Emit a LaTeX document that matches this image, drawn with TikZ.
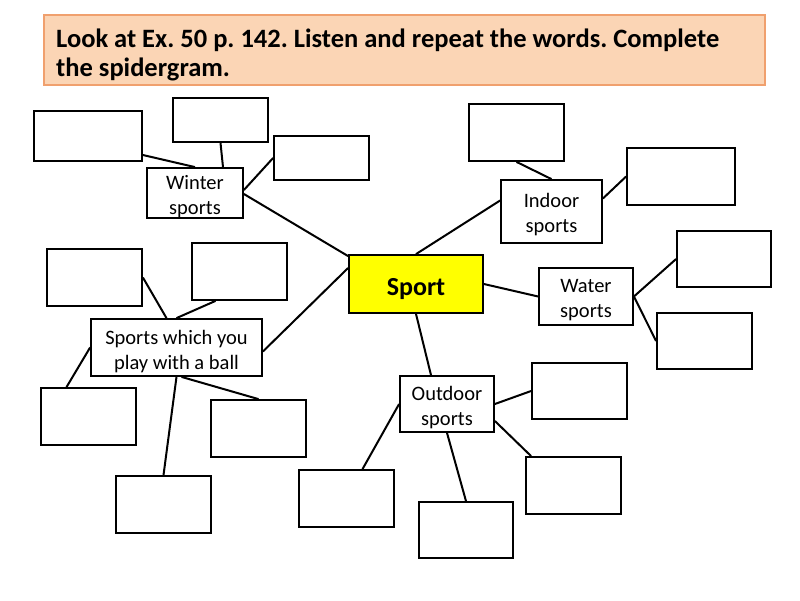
\documentclass[tikz,border=0pt]{standalone}
\usepackage{fontspec}
\setmainfont{Carlito}
\frenchspacing
\usetikzlibrary{calc}
\definecolor{titlefill}{RGB}{251,213,181}
\definecolor{titledraw}{RGB}{240,160,110}
\definecolor{sportyellow}{RGB}{255,255,0}
\newcommand{\lowstrut}{\rule{0pt}{21pt}}
\tikzset{
  box/.style={draw=black, line width=1.8pt, fill=white, inner sep=0pt, align=center,
    font=\fontsize{20.5}{25}\selectfont},
  link/.style={line width=2pt, black},
}
\begin{document}
\begin{tikzpicture}[x=1pt,y=-1pt]
\useasboundingbox[fill=white] (0,0) rectangle (800,600);
% title
\node[draw=titledraw, fill=titlefill, line width=1.5pt, minimum width=721pt, minimum height=70pt,
  inner sep=0pt] (title) at (404.5,50) {};
\node[anchor=base west, inner sep=0pt, align=left, font=\bfseries\fontsize{26.5}{29}\selectfont]
  (titletext) at (56,76) {Look at Ex. 50 p. 142. Listen and repeat the words. Complete\\the spidergram.};
% centre
\node[box, fill=sportyellow, minimum width=134pt, minimum height=58pt, text height=40pt, text depth=18pt,
  font=\bfseries\fontsize{26}{28}\selectfont] (sport) at (416,284) {Sport};
% categories
\node[box, minimum width=96pt, minimum height=50pt] (winter) at (195,193) {\lowstrut Winter\\sports};
\node[box, minimum width=101pt, minimum height=63pt] (indoor) at (551.5,211.5) {\lowstrut Indoor\\sports};
\node[box, minimum width=94pt, minimum height=57pt] (water) at (586,296.5) {\lowstrut Water\\sports};
\node[box, minimum width=94pt, minimum height=56pt] (outdoor) at (447,404) {\lowstrut Outdoor\\sports};
\node[box, minimum width=171pt, minimum height=57pt] (ball) at (176.5,347.5) {\rule{0pt}{23pt}Sports which you\\play with a ball};
% empty boxes
\node[box, minimum width=108pt, minimum height=50pt] (w1) at (88,136) {};
\node[box, minimum width=95pt, minimum height=44pt] (w2) at (220.5,120) {};
\node[box, minimum width=95pt, minimum height=44pt] (w3) at (321.5,158) {};
\node[box, minimum width=95pt, minimum height=57pt] (i1) at (516.5,132.5) {};
\node[box, minimum width=108pt, minimum height=57pt] (i2) at (681,176.5) {};
\node[box, minimum width=94pt, minimum height=56pt] (wa1) at (724,259) {};
\node[box, minimum width=95pt, minimum height=56pt] (wa2) at (704.5,341) {};
\node[box, minimum width=95pt, minimum height=56pt] (o1) at (579.5,391) {};
\node[box, minimum width=95pt, minimum height=57pt] (o2) at (573.5,485.5) {};
\node[box, minimum width=94pt, minimum height=56pt] (o3) at (466,530) {};
\node[box, minimum width=95pt, minimum height=57pt] (o4) at (346.5,498.5) {};
\node[box, minimum width=95pt, minimum height=57pt] (b1) at (94.5,277.5) {};
\node[box, minimum width=95pt, minimum height=57pt] (b2) at (239.5,271.5) {};
\node[box, minimum width=95pt, minimum height=57pt] (b3) at (88.5,416.5) {};
\node[box, minimum width=95pt, minimum height=57pt] (b4) at (258.5,428.5) {};
\node[box, minimum width=95pt, minimum height=57pt] (b5) at (163.5,504.5) {};
% connectors
\draw[link] ([yshift=-19pt]w1.east) -- (winter.north);
\draw[link] (w2.south) -- ([xshift=28pt]winter.north);
\draw[link] (w3.west) -- ([yshift=3pt]winter.east);
\draw[link] ([yshift=-1pt]winter.east) -- ([yshift=-2pt]sport.north west);
\draw[link] ([yshift=-4pt]ball.east) -- ([yshift=16pt]sport.west);
\draw[link] (sport.north) -- ([yshift=11pt]indoor.west);
\draw[link] (sport.east) -- (water.west);
\draw[link] (sport.south) -- ([xshift=-16pt]outdoor.north);
\draw[link] (i1.south) -- (indoor.north);
\draw[link] ([yshift=13pt]indoor.east) -- (i2.west);
\draw[link] (water.east) -- (wa1.west);
\draw[link] (water.east) -- (wa2.west);
\draw[link] (outdoor.east) -- (o1.west);
\draw[link] ([yshift=-17pt]outdoor.east) -- ([xshift=6pt]o2.north west);
\draw[link] (outdoor.south) -- (o3.north);
\draw[link] (outdoor.west) -- ([xshift=16pt]o4.north);
\draw[link] (b1.east) -- ([xshift=-10pt]ball.north);
\draw[link] ([xshift=-24pt]b2.south) -- (ball.north);
\draw[link] (ball.west) -- ([xshift=-22pt]b3.north);
\draw[link] ([xshift=5pt]ball.south) -- (b4.north);
\draw[link] (ball.south) -- (b5.north);
\end{tikzpicture}
\end{document}
